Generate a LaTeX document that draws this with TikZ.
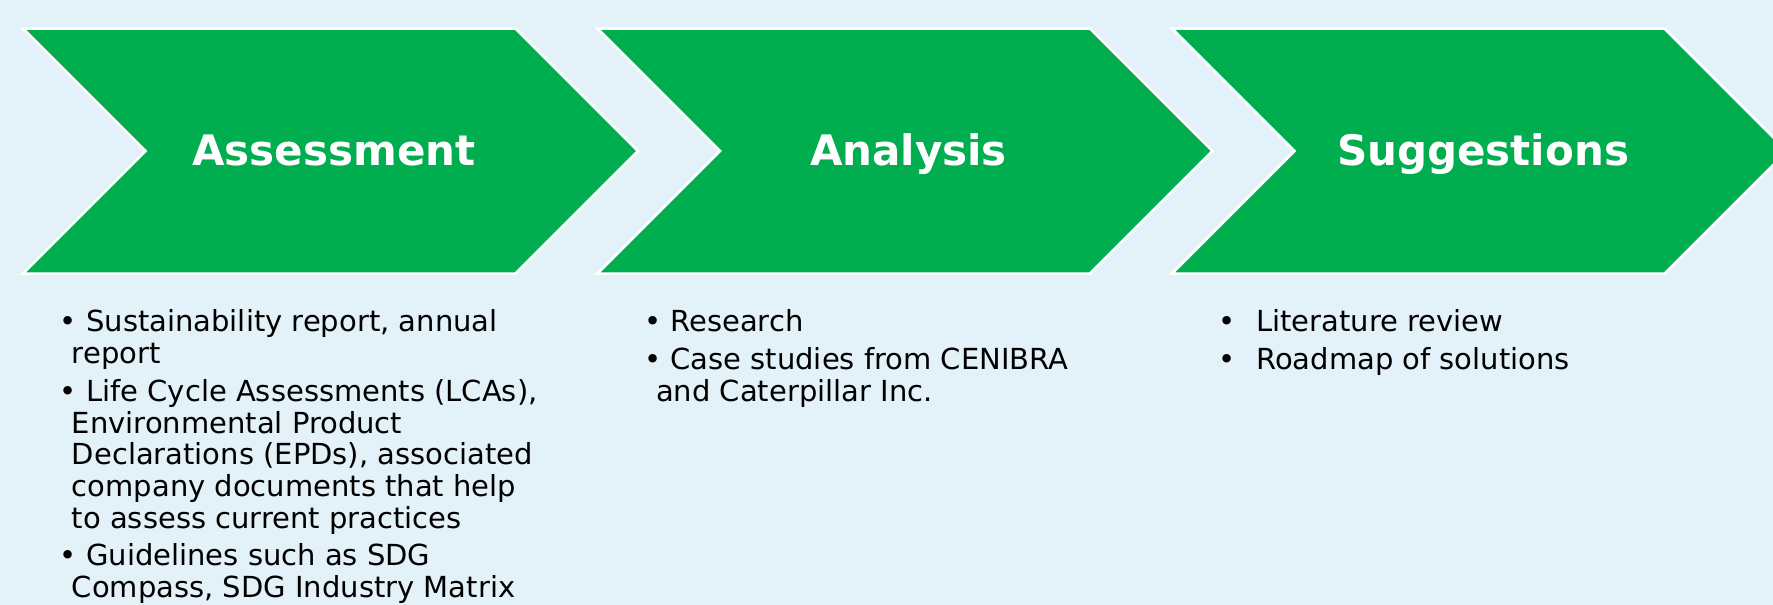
\documentclass[tikz,border=0pt]{standalone}
\usepackage{fontspec}
\setmainfont{DejaVu Sans}
\definecolor{chevgreen}{HTML}{00AE4F}
\definecolor{bgblue}{HTML}{E3F2F8}
\newcommand{\bitem}{\rule{0pt}{23pt}\hspace*{-12pt}\textbullet\ }
\newcommand{\bitemtab}{\rule{0pt}{23pt}\llap{\textbullet\hspace{21pt}}}
\tikzset{
  chev/.style={fill=chevgreen, draw=white, line width=2.5pt, line join=miter},
  steptitle/.style={anchor=base, inner sep=0pt, text=white, font=\bfseries\fontsize{42pt}{48pt}\selectfont},
  items/.style={anchor=north west, inner sep=0pt, align=left, font=\fontsize{29pt}{31.7pt}\selectfont}
}
\begin{document}
\begin{tikzpicture}[x=1pt, y=-1pt]
  \useasboundingbox (0,0) rectangle (1773,605);
  \clip (0,0) rectangle (1773,605);
  \fill[bgblue] (0,0) rectangle (1773,605);
  \foreach \i/\lbl in {0/Assessment, 1/Analysis, 2/Suggestions}{
    \begin{scope}[xshift=\i*574.5pt]
      \draw[chev] (23,28.5) -- (515.5,28.5) -- (638,151) -- (515.5,273.5)
        -- (23,273.5) -- (145.5,151) -- cycle;
      \node[steptitle] (step\i) at (334,165) {\lbl};
    \end{scope}
  }
  \node[items] (assessitems) at (71.7,308.7) {\bitem Sustainability report, annual\\
    report\\[6pt]
    \bitem Life Cycle Assessments (LCAs),\\
    Environmental Product\\
    Declarations (EPDs), associated\\
    company documents that help\\
    to assess current practices\\[6pt]
    \bitem Guidelines such as SDG\\
    Compass, SDG Industry Matrix};
  \node[items] (analysisitems) at (656,308.7) {\bitem Research\\[6pt]
    \bitem Case studies from CENIBRA\\
    and Caterpillar Inc.};
  \node[items] (suggestitems) at (1256,308.7) {\bitemtab Literature review\\[6pt]
    \bitemtab Roadmap of solutions};
\end{tikzpicture}
\end{document}
